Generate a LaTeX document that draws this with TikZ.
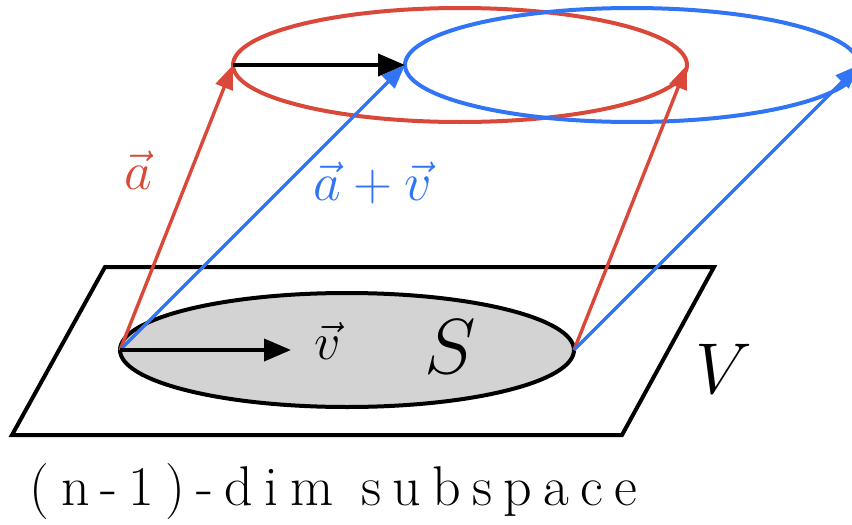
\RequirePackage{fix-cm}
\documentclass[tikz,border=0pt]{standalone}
\usepackage{fontspec}
\setmainfont{Latin Modern Roman}
\newfontfamily\handfont{Latin Modern Roman}[LetterSpace=20]
\usetikzlibrary{arrows.meta,shapes.geometric}

\definecolor{redpen}{RGB}{217,72,56}
\definecolor{bluepen}{RGB}{49,117,246}
\definecolor{regiongray}{RGB}{211,211,211}

\begin{document}
\begin{tikzpicture}[
  x=1pt, y=-1pt,
  every node/.style={inner sep=0pt, outer sep=0pt},
  ring/.style={ellipse, draw, line width=4pt, minimum width=454pt, minimum height=114pt},
  redvec/.style={redpen, line width=3.4pt, -{Triangle[length=24pt,width=18pt]}},
  bluevec/.style={bluepen, line width=3.4pt, -{Triangle[length=24pt,width=18pt]}},
  movevec/.style={black, line width=4pt, -{Triangle[length=27pt,width=22pt]}},
  hand/.style={font=\fontsize{#1}{#1}\selectfont}
]
\useasboundingbox (0,0) rectangle (852,525);

% the plane V
\coordinate (p1) at (105,267);
\coordinate (p2) at (714,267);
\coordinate (p3) at (622,435);
\coordinate (p4) at (12,435);
\draw[line width=4pt, line join=miter] (p1) -- (p2) -- (p3) -- (p4) -- cycle;

% region S and its two shifted copies
\node[ring, fill=regiongray] (S) at (347,350) {};
\node[ring, redpen] (topA) at (460,65) {};
\node[ring, bluepen] (topB) at (632,65) {};

\draw[redvec] (S.west) -- (topA.west);
\draw[redvec] (S.east) -- (topA.east);
\draw[bluevec] (S.west) -- (topB.west);
\draw[bluevec] (S.east) -- (topB.east);

\coordinate (vend) at (291,350);
\draw[movevec] (S.west) -- (vend);
\draw[movevec] (topA.west) -- (topB.west);

% labels
\node[hand=54, redpen] (alab) at (138,170) {$\vec{a}$};
\node[hand=54, bluepen] (avlab) at (373,183) {$\vec{a}+\vec{v}$};
\node[hand=52] (vlab) at (328,341) {$\vec{v}$};
\node[hand=78] (Slab) at (450,347) {$S$};
\node[hand=72] (Vlab) at (724,369) {$V$};
\node[hand=56, anchor=base west] (sublab) at (30,505) {\handfont (n-1)-dim subspace};
\end{tikzpicture}
\end{document}
